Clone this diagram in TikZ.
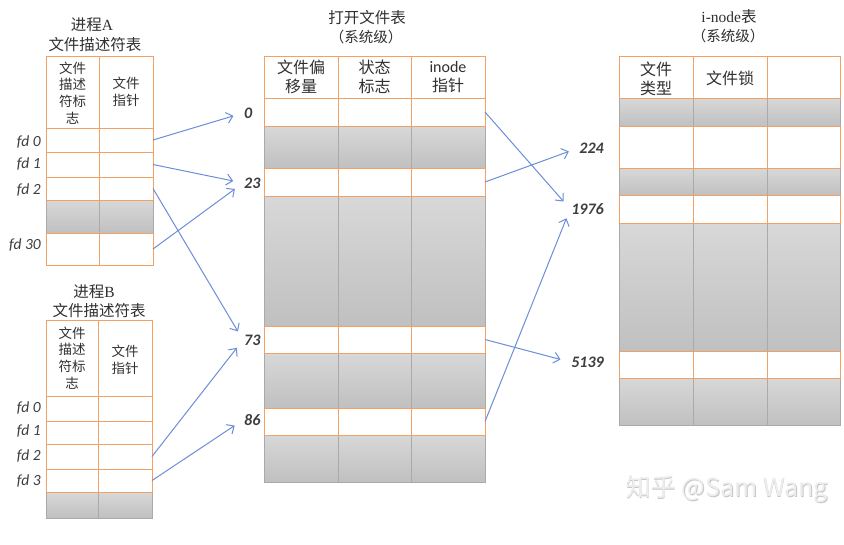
\documentclass[tikz,border=0pt]{standalone}
\usepackage{fontspec}
\setmainfont{Carlito}
\newfontfamily\cjk{Noto Sans CJK SC}
\newfontfamily\lat{Liberation Serif}
\usetikzlibrary{arrows.meta}

\definecolor{cellline}{RGB}{242,160,100}
\definecolor{shadeTop}{RGB}{216,216,216}
\definecolor{shadeBot}{RGB}{192,192,192}
\definecolor{shadeLine}{RGB}{170,170,170}
\definecolor{link}{RGB}{108,142,216}
\definecolor{ink}{RGB}{48,48,48}
\definecolor{numink}{RGB}{62,62,62}

\tikzset{
  rowcell/.style={draw=cellline, line width=1pt, fill=white, inner sep=0pt, outer sep=0pt},
  headtext/.style={align=center, text=ink, inner sep=0pt},
  titletext/.style={align=center, text=ink, inner sep=0pt, font=\cjk\fontsize{15.5}{19}\selectfont},
  subtitletext/.style={align=center, text=ink, inner sep=0pt, font=\cjk\fontsize{14.5}{17}\selectfont},
  fdlabel/.style={anchor=east, text=numink, inner sep=1pt, font=\fontsize{15.5}{18}\selectfont\itshape},
  numlabel/.style={text=numink, inner sep=1pt, font=\fontsize{16}{19}\selectfont\bfseries\itshape},
  link/.style={draw=link, line width=1pt, -{Straight Barb[length=6pt,width=11pt]}, shorten >=10pt},
}

% a shaded (unused) block of rows: x0, y0, x1, y1, inner column lines
\newcommand\usedblock[5]{%
  \shade[top color=shadeTop, bottom color=shadeBot] (#1,#2) rectangle (#3,#4);
  \draw[shadeLine, line width=0.8pt] (#1,#2) rectangle (#3,#4);
  \foreach \xx in {#5} \draw[shadeLine, line width=0.8pt] (\xx,#2) -- (\xx,#4);
}
% an open entry row: name, x0, y0, x1, y1, inner column lines
\newcommand\entryrow[6]{%
  \node[rowcell, anchor=north west, minimum width={(#4-#2)*1pt}, minimum height={(#5-#3)*1pt}] (#1) at (#2,#3) {};
  \foreach \xx in {#6} \draw[cellline, line width=1pt] (\xx,#3) -- (\xx,#5);
}
% a header box: x0, y0, x1, y1, inner column lines
\newcommand\headbox[5]{%
  \draw[cellline, line width=1pt, fill=white] (#1,#2) rectangle (#3,#4);
  \foreach \xx in {#5} \draw[cellline, line width=1pt] (\xx,#2) -- (\xx,#4);
}

\begin{document}
\begin{tikzpicture}[x=1pt, y=-1pt]
\useasboundingbox[fill=white] (0,0) rectangle (844,544);

% ---------- process A descriptor table ----------
\node[titletext] (tA1) at (92,25) {进程\lat A};
\node[titletext] (tA2) at (95,45) {文件描述符表};
\usedblock{46}{200}{153}{233}{99}
\entryrow{a0}{46}{128}{153}{152}{99}
\entryrow{a1}{46}{152}{153}{177}{99}
\entryrow{a2}{46}{177}{153}{200}{99}
\entryrow{a30}{46}{233}{153}{265}{99}
\headbox{46}{56}{153}{128}{99}
\node[headtext, font=\cjk\fontsize{13.5}{16.7}\selectfont] (hA1) at (72.5,93) {文件\\描述\\符标\\志};
\node[headtext, font=\cjk\fontsize{13.5}{16.7}\selectfont] (hA2) at (126,92) {文件\\指针};
\node[fdlabel] (fa0) at (42,142) {fd 0};
\node[fdlabel] (fa1) at (42,164) {fd 1};
\node[fdlabel] (fa2) at (42,190) {fd 2};
\node[fdlabel] (fa30) at (42,245) {fd 30};

% ---------- process B descriptor table ----------
\node[titletext] (tB1) at (94,292) {进程\lat B};
\node[titletext] (tB2) at (99,311) {文件描述符表};
\usedblock{46}{492}{152}{518}{98}
\entryrow{b0}{46}{396}{152}{421}{98}
\entryrow{b1}{46}{421}{152}{444}{98}
\entryrow{b2}{46}{444}{152}{469}{98}
\entryrow{b3}{46}{469}{152}{492}{98}
\headbox{46}{320}{152}{396}{98}
\node[headtext, font=\cjk\fontsize{13.5}{16.7}\selectfont] (hB1) at (72,358) {文件\\描述\\符标\\志};
\node[headtext, font=\cjk\fontsize{13.5}{16.7}\selectfont] (hB2) at (125,360) {文件\\指针};
\node[fdlabel] (fb0) at (42,408) {fd 0};
\node[fdlabel] (fb1) at (42,431) {fd 1};
\node[fdlabel] (fb2) at (42,456) {fd 2};
\node[fdlabel] (fb3) at (42,481) {fd 3};

% ---------- open file table ----------
\node[titletext] (tM1) at (367,18) {打开文件表};
\node[subtitletext] (tM2) at (366,37) {（系统级）};
\usedblock{264}{126}{485}{168}{338,411}
\usedblock{264}{196}{485}{326}{338,411}
\usedblock{264}{353}{485}{408}{338,411}
\usedblock{264}{435}{485}{482}{338,411}
\entryrow{m0}{264}{98}{485}{126}{338,411}
\entryrow{m23}{264}{168}{485}{196}{338,411}
\entryrow{m73}{264}{326}{485}{353}{338,411}
\entryrow{m86}{264}{408}{485}{435}{338,411}
\headbox{264}{56}{485}{98}{338,411}
\node[headtext, font=\cjk\fontsize{16}{19}\selectfont] (hM1) at (301,77) {文件偏\\移量};
\node[headtext, font=\cjk\fontsize{16}{19}\selectfont] (hM2) at (374.5,77) {状态\\标志};
\node[headtext, font=\cjk\fontsize{16}{19}\selectfont] (hM3) at (448,77) {\fontspec{Carlito}inode\\指针};
\node[numlabel, anchor=west] (n0) at (243,113) {0};
\node[numlabel, anchor=west] (n23) at (243,183) {23};
\node[numlabel, anchor=west] (n73) at (243,340) {73};
\node[numlabel, anchor=west] (n86) at (243,420) {86};

% ---------- i-node table ----------
\node[titletext] (tR1) at (729,17) {\lat i-node\cjk 表};
\node[subtitletext] (tR2) at (728,36) {（系统级）};
\usedblock{619}{98}{840}{126}{693,767}
\usedblock{619}{168}{840}{195}{693,767}
\usedblock{619}{223}{840}{351}{693,767}
\usedblock{619}{378}{840}{425}{693,767}
\entryrow{r224}{619}{126}{840}{168}{693,767}
\entryrow{r1976}{619}{195}{840}{223}{693,767}
\entryrow{r5139}{619}{351}{840}{378}{693,767}
\headbox{619}{56}{840}{98}{693,767}
\node[headtext, font=\cjk\fontsize{16}{18.5}\selectfont] (hR1) at (656,79) {文件\\类型};
\node[headtext, font=\cjk\fontsize{16}{18.5}\selectfont] (hR2) at (730,78) {文件锁};
\node[numlabel, anchor=east] (n224) at (605,148) {224};
\node[numlabel, anchor=east] (n1976) at (605,209) {1976};
\node[numlabel, anchor=east] (n5139) at (605,362) {5139};

% ---------- descriptor -> open file entries ----------
\draw[link] (a0.east) -- (n0.west);
\draw[link] (a1.east) -- (n23.west);
\draw[link] (a2.east) -- (n73.west);
\draw[link] (a30.east) -- (n23.west);
\draw[link] (b2.east) -- (n73.west);
\draw[link] (b3.east) -- (n86.west);

% ---------- open file entries -> i-nodes ----------
\draw[link] (m0.east) -- (n1976.west);
\draw[link] (m23.east) -- (n224.west);
\draw[link] (m73.east) -- (n5139.west);
\draw[link] (m86.east) -- (n1976.west);

% ---------- embossed signature ----------
\node[text=gray!45, font=\cjk\fontsize{25}{30}\selectfont, inner sep=0pt] (wmS) at (727.8,489.8) {知乎 @Sam Wang};
\node[text=gray!14, font=\cjk\fontsize{25}{30}\selectfont, inner sep=0pt] (wm) at (727,489) {知乎 @Sam Wang};
\end{tikzpicture}
\end{document}
